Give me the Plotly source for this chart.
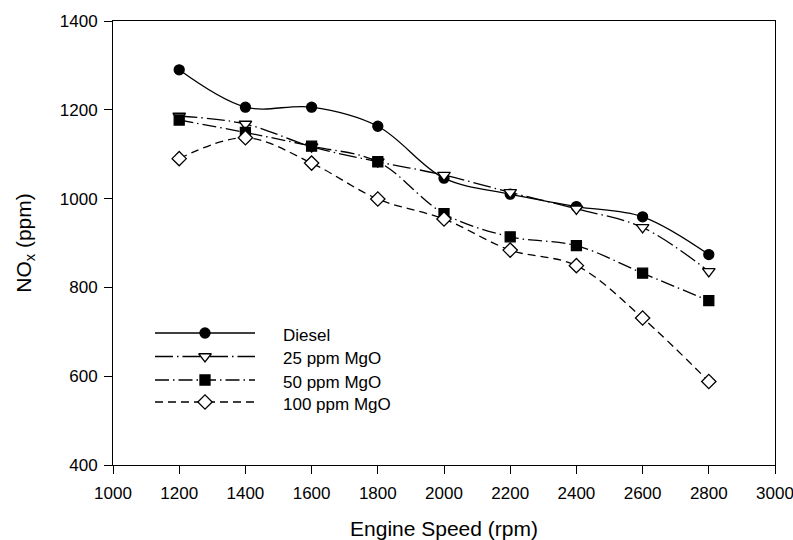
import plotly.graph_objects as go

speed = [1200, 1400, 1600, 1800, 2000, 2200, 2400, 2600, 2800]
diesel = [1290, 1206, 1206, 1163, 1046, 1010, 982, 959, 874]
mgo25 = [1186, 1168, 1117, 1083, 1053, 1014, 977, 935, 836]
mgo50 = [1177, 1149, 1118, 1083, 966, 914, 894, 832, 770]
mgo100 = [1090, 1137, 1080, 999, 954, 884, 849, 731, 588]
series_names = ["Diesel", "25 ppm MgO", "50 ppm MgO", "100 ppm MgO"]
x_ticks = [1000, 1200, 1400, 1600, 1800, 2000, 2200, 2400, 2600, 2800, 3000]
y_ticks = [400, 600, 800, 1000, 1200, 1400]

FONT = "Liberation Sans, Arial, sans-serif"
styles = [
    dict(dash="solid", symbol="circle", fill="black", size=10),
    dict(dash="18px,4px,1.5px,4px", symbol="triangle-down", fill="white", size=11),
    dict(dash="14px,4px,1.5px,4px", symbol="square", fill="black", size=10),
    dict(dash="8px,5px", symbol="diamond", fill="white", size=11),
]
data = [diesel, mgo25, mgo50, mgo100]

fig = go.Figure()
for name, ys, st in zip(series_names, data, styles):
    fig.add_trace(go.Scatter(
        x=speed, y=ys, name=name, mode="lines+markers",
        line=dict(color="black", width=1.3, dash=st["dash"], shape="spline", smoothing=1.0),
        marker=dict(symbol=st["symbol"], size=st["size"], color=st["fill"],
                    line=dict(color="black", width=1.3)),
        showlegend=False, cliponaxis=False,
    ))

# custom legend drawn in pixel-like overlay axes
L, R, T, B = 113, 775, 21, 465
leg_rows = [333, 356.5, 380, 402]
for name, st, yr in zip(series_names, styles, leg_rows):
    fig.add_trace(go.Scatter(
        x=[155, 205, 255], y=[yr, yr, yr], xaxis="x2", yaxis="y2",
        mode="lines", line=dict(color="black", width=1.3, dash=st["dash"]),
        showlegend=False, hoverinfo="skip",
    ))
    fig.add_trace(go.Scatter(
        x=[205], y=[yr], xaxis="x2", yaxis="y2", mode="markers",
        marker=dict(symbol=st["symbol"], size=st["size"], color=st["fill"],
                    line=dict(color="black", width=1.3)),
        showlegend=False, hoverinfo="skip",
    ))
    fig.add_annotation(x=281, y=yr + 2, xref="x2", yref="y2", text=name,
                       showarrow=False, xanchor="left", yanchor="middle",
                       font=dict(family=FONT, size=17, color="black"))

fig.update_layout(
    width=793, height=540,
    margin=dict(l=L, r=793 - R, t=T, b=540 - B),
    paper_bgcolor="white", plot_bgcolor="white",
    font=dict(family=FONT, color="black"),
    xaxis=dict(
        range=[1000, 3000], tickvals=x_ticks, ticks="outside", ticklen=8,
        tickwidth=1, tickcolor="black", showgrid=False, zeroline=False,
        showline=True, linecolor="black", linewidth=1, mirror=True,
        tickfont=dict(family=FONT, size=17), ticklabelstandoff=5,
        ticklabeloverflow="allow", automargin=False,
        title=dict(text="Engine Speed (rpm)", font=dict(family=FONT, size=21), standoff=20),
    ),
    yaxis=dict(
        range=[400, 1400], tickvals=y_ticks, ticks="outside", ticklen=8,
        tickwidth=1, tickcolor="black", showgrid=False, zeroline=False,
        showline=True, linecolor="black", linewidth=1, mirror=True,
        tickfont=dict(family=FONT, size=17), ticklabelstandoff=3,
        ticklabeloverflow="allow", automargin=False,
        title=dict(text="NO<sub>x</sub> (ppm)", font=dict(family=FONT, size=21), standoff=22),
    ),
    xaxis2=dict(range=[L, R], overlaying="x", visible=False, anchor="y2"),
    yaxis2=dict(range=[B, T], overlaying="y", visible=False, anchor="x2"),
)

fig.write_html("out.html")
